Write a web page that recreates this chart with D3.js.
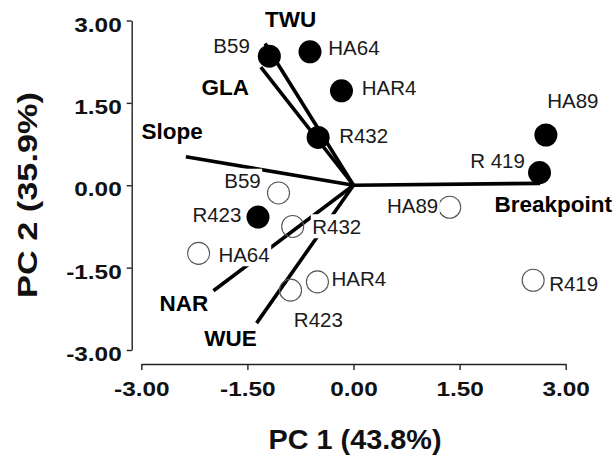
<!DOCTYPE html>
<html>
<head>
<meta charset="utf-8">
<script src="https://cdn.jsdelivr.net/npm/d3@7"></script>
<style>
  html, body { margin: 0; padding: 0; background: #fff; }
  svg { display: block; }
</style>
</head>
<body>
<svg id="chart" width="613" height="457"></svg>
<script>
// ---------------- data ----------------
const tickValues = [-3, -1.5, 0, 1.5, 3];
const tickLabels = ["-3.00", "-1.50", "0.00", "1.50", "3.00"];

// filled symbols (scores, group 1)
const filledNames = ["B59", "HA64", "HAR4", "R432", "HA89", "R 419", "R423"];
const filledPC1   = [-1.19, -0.615, -0.17, -0.50, 2.72, 2.63, -1.35];
const filledPC2   = [2.35, 2.43, 1.72, 0.87, 0.915, 0.23, -0.58];

// open symbols (scores, group 2)
const openNames = ["B59", "HA89", "R432", "HA64", "HAR4", "R423", "R419"];
const openPC1   = [-1.06, 1.36, -0.86, -2.19, -0.51, -0.89, 2.54];
const openPC2   = [-0.14, -0.40, -0.75, -1.24, -1.76, -1.91, -1.73];

// loading vectors
const vectorNames = ["TWU", "GLA", "Slope", "Breakpoint", "NAR", "WUE"];
const vectorPC1   = [-1.25, -1.31, -2.37, 2.64, -1.98, -1.37];
const vectorPC2   = [2.58, 2.15, 0.52, 0.035, -1.92, -2.51];

const xTitle = "PC 1 (43.8%)";
const yTitle = "PC 2 (35.9%)";

// ---------------- layout (label offsets in px from their mark) ----------------
const filledLabelOffset = [[-56, -2.7], [18.3, 3.3], [20.2, 4], [21, 6], [1.3, -26.7], [-69.3, -4.4], [-65.6, 4.7]];
const openLabelOffset   = [[-54.3, -4.7], [-62.7, 6], [19.6, 7.3], [19.8, 8.4], [14, 4.3], [3.3, 37.3], [16, 10.7]];
const vectorLabelOffset = [[0, -16.6], [-59.3, 28], [-44.3, -17.3], [-45.7, 28.4], [-54, 20], [-52.4, 22.7]];

// ---------------- chart ----------------
const svg = d3.select("#chart");
const x = d3.scaleLinear().domain([-3, 3]).range([141.3, 565.7]);
const y = d3.scaleLinear().domain([-3, 3]).range([350, 20.5]);
const yAxisX = 131.7, xAxisY = 364;
const fmt = v => tickLabels[tickValues.indexOf(v)];

// axes
const gy = svg.append("g").attr("transform", `translate(${yAxisX},0)`)
  .call(d3.axisLeft(y).tickValues(tickValues).tickFormat(fmt).tickSize(5).tickPadding(5).tickSizeOuter(0));
const gx = svg.append("g").attr("transform", `translate(0,${xAxisY})`)
  .call(d3.axisBottom(x).tickValues(tickValues).tickFormat(fmt).tickSize(6).tickPadding(12).tickSizeOuter(0));
[gx, gy].forEach(g => {
  g.select(".domain").attr("stroke", "#222").attr("stroke-width", 1.4);
  g.selectAll(".tick line").attr("stroke", "#222").attr("stroke-width", 1.4);
  g.selectAll(".tick text")
    .attr("fill", "#111")
    .style("font-family", "'Liberation Sans', Arial, sans-serif")
    .style("font-weight", "bold")
    .style("font-size", "19.5px")
    .each(function () {
      const w = this.getComputedTextLength();
      d3.select(this).attr("textLength", w * 1.25).attr("lengthAdjust", "spacingAndGlyphs");
    });
});
gy.selectAll(".tick text").attr("dy", "0.55em");
gx.selectAll(".tick text").attr("dy", "0.74em");

// titles
svg.append("text")
  .attr("x", 355).attr("y", 449.3)
  .attr("text-anchor", "middle")
  .attr("textLength", 173).attr("lengthAdjust", "spacingAndGlyphs")
  .style("font-family", "'Liberation Sans', Arial, sans-serif")
  .style("font-weight", "bold").style("font-size", "27px").attr("fill", "#111")
  .text(xTitle);
svg.append("text")
  .attr("transform", "translate(36.6,195) rotate(-90)")
  .attr("text-anchor", "middle")
  .attr("textLength", 206).attr("lengthAdjust", "spacingAndGlyphs")
  .style("font-family", "'Liberation Sans', Arial, sans-serif")
  .style("font-weight", "bold").style("font-size", "27px").attr("fill", "#111")
  .text(yTitle);

const plot = svg.append("g");
const vectors = vectorNames.map((n, i) => ({ name: n, pc1: vectorPC1[i], pc2: vectorPC2[i], off: vectorLabelOffset[i] }));
const filled = filledNames.map((n, i) => ({ name: n, pc1: filledPC1[i], pc2: filledPC2[i], off: filledLabelOffset[i] }));
const open = openNames.map((n, i) => ({ name: n, pc1: openPC1[i], pc2: openPC2[i], off: openLabelOffset[i] }));

// vector lines
plot.append("g").selectAll("line").data(vectors).join("line")
  .attr("x1", x(0)).attr("y1", y(0))
  .attr("x2", d => x(d.pc1)).attr("y2", d => y(d.pc2))
  .attr("stroke", "#000").attr("stroke-width", 3.6);

// open circles
plot.append("g").selectAll("circle").data(open).join("circle")
  .attr("cx", d => x(d.pc1)).attr("cy", d => y(d.pc2)).attr("r", 11)
  .attr("fill", "none").attr("stroke", "#555").attr("stroke-width", 1.1);

// filled circles
plot.append("g").selectAll("circle").data(filled).join("circle")
  .attr("cx", d => x(d.pc1)).attr("cy", d => y(d.pc2)).attr("r", 11.5)
  .attr("fill", "#000");

// labels with white background boxes
function addLabels(data, cls, weight, size, color) {
  const g = plot.append("g").attr("class", cls);
  const items = g.selectAll("g").data(data).join("g");
  const texts = items.append("text")
    .attr("x", d => x(d.pc1) + d.off[0])
    .attr("y", d => y(d.pc2) + d.off[1])
    .style("font-family", "'Liberation Sans', Arial, sans-serif")
    .style("font-weight", weight).style("font-size", size + "px")
    .attr("fill", color)
    .text(d => d.name);
  texts.each(function () {
    const b = this.getBBox();
    d3.select(this.parentNode).insert("rect", "text")
      .attr("x", b.x - 1.5).attr("y", b.y - 0.5)
      .attr("width", b.width + 3).attr("height", b.height + 1)
      .attr("fill", "#fff");
  });
}
addLabels(open, "open-labels", "normal", 20.5, "#1a1a1a");
addLabels(filled, "filled-labels", "normal", 20.5, "#1a1a1a");
addLabels(vectors, "vector-labels", "bold", 22.5, "#000");
</script>
</body>
</html>
